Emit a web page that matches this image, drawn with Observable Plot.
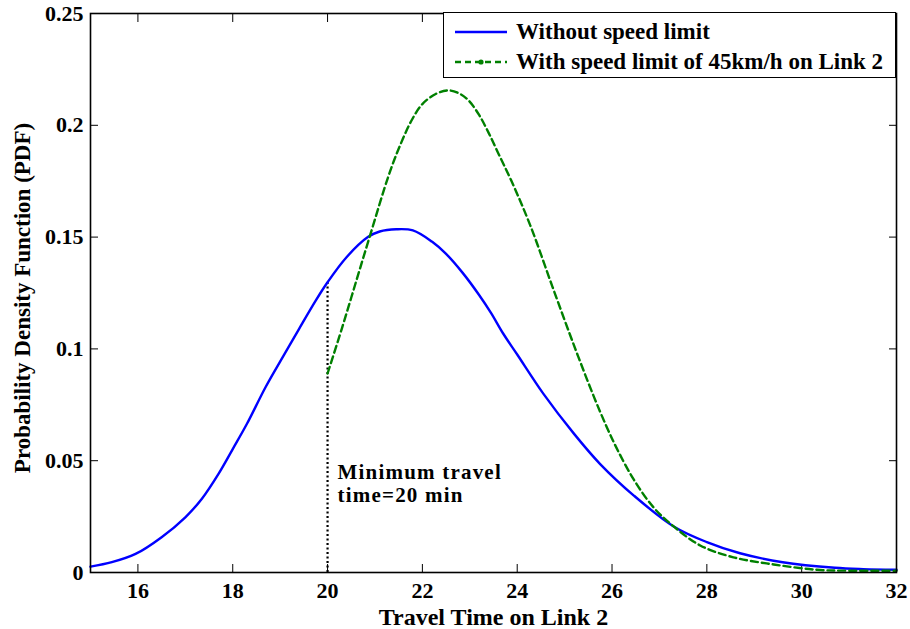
<!DOCTYPE html>
<html>
<head>
<meta charset="utf-8">
<script src="https://cdn.jsdelivr.net/npm/d3@7"></script>
<script src="https://cdn.jsdelivr.net/npm/@observablehq/plot@0.6"></script>
<style>
  html, body { margin: 0; padding: 0; background: white; }
  #wrap { position: relative; width: 910px; height: 629px; }
  #legend {
    position: absolute; left: 443px; top: 12px; width: 451px; height: 64px;
    border: 1.5px solid black; background: white;
    font-family: 'Liberation Serif', 'Times New Roman', serif; font-weight: bold; font-size: 23px;
  }
  .row { position: absolute; left: 10px; display: flex; align-items: center; height: 30px; }
  .row svg { margin-right: 8px; }
</style>
</head>
<body>
<div id="wrap">
  <div id="chart"></div>
  <div id="legend"></div>
</div>
<script>
// Data
const seriesNames = ["Without speed limit", "With speed limit of 45km/h on Link 2"];
const blueX = [15.0, 15.45, 15.95, 16.5, 17.0, 17.35, 17.7, 18.0, 18.3, 18.7, 19.1, 19.4, 19.75, 20.0, 20.4, 20.85, 21.1, 21.45, 21.8, 22.2, 22.5, 22.85, 23.2, 23.45, 23.7, 24.0, 24.55, 25.2, 25.75, 26.46, 27.3, 28.0, 28.7, 29.6, 30.7, 31.3, 32.0];
const blueY = [0.0026, 0.0046, 0.0083, 0.0158, 0.0247, 0.033, 0.0441, 0.0552, 0.0665, 0.0832, 0.098, 0.109, 0.1216, 0.1298, 0.141, 0.150, 0.1525, 0.1535, 0.153, 0.148, 0.1425, 0.134, 0.124, 0.116, 0.107, 0.0975, 0.080, 0.062, 0.0485, 0.0344, 0.0206, 0.0136, 0.0086, 0.0046, 0.0021, 0.0015, 0.0012];
const greenX = [20.0, 20.3, 20.6, 20.9, 21.28, 21.5, 21.78, 22.0, 22.28, 22.56, 22.8, 22.98, 23.2, 23.4, 23.6, 23.87, 24.28, 24.74, 25.19, 25.61, 25.89, 26.1, 26.46, 26.88, 27.3, 27.86, 28.56, 29.41, 30.32, 31.0, 32.0];
const greenY = [0.089, 0.109, 0.130, 0.151, 0.177, 0.1895, 0.2025, 0.2095, 0.214, 0.2156, 0.214, 0.211, 0.2045, 0.1965, 0.1875, 0.1755, 0.155, 0.128, 0.102, 0.079, 0.065, 0.0555, 0.0415, 0.029, 0.0206, 0.0121, 0.0068, 0.0036, 0.0012, 0.0008, 0.0008];
const minTravelTime = 20;
const annotationText = "Minimum travel\ntime=20 min";
const annotationY = 0.0495;
const xTicks = [16, 18, 20, 22, 24, 26, 28, 30, 32];
const yTicks = [0, 0.05, 0.1, 0.15, 0.2, 0.25];
const xLabel = "Travel Time on Link 2";
const yLabel = "Probability Density Function (PDF)";

const blue = blueX.map((x, i) => ({x, y: blueY[i]}));
const green = greenX.map((x, i) => ({x, y: greenY[i]}));
const blueAtMin = blueY[blueX.indexOf(minTravelTime)];

const serif = "'Liberation Serif', 'Times New Roman', serif";

const chart = Plot.plot({
  width: 910,
  height: 629,
  marginLeft: 90,
  marginRight: 14,
  marginTop: 13,
  marginBottom: 57,
  style: {fontFamily: serif, fontWeight: "bold", fontSize: "22px", background: "white", color: "black", overflow: "visible"},
  x: {domain: [15, 32]},
  y: {domain: [0, 0.25]},
  marks: [
    Plot.axisX({anchor: "bottom", ticks: xTicks, tickSize: -8, tickPadding: 18, tickFormat: d => String(d), label: null, fontSize: 22}),
    Plot.axisX({anchor: "top", ticks: xTicks, tickSize: -8, tickFormat: () => "", label: null}),
    Plot.axisY({anchor: "left", ticks: yTicks, tickSize: -8, tickPadding: 15, tickFormat: d => String(d), label: null, fontSize: 22}),
    Plot.axisY({anchor: "right", ticks: yTicks, tickSize: -8, tickFormat: () => "", label: null}),
    Plot.ruleX([minTravelTime], {y1: 0, y2: blueAtMin, stroke: "black", strokeWidth: 2.2, strokeDasharray: "2,2.5"}),
    Plot.line(blue, {x: "x", y: "y", stroke: "#0000ff", strokeWidth: 2.4, curve: "catmull-rom"}),
    Plot.line(green, {x: "x", y: "y", stroke: "#008000", strokeWidth: 2.4, strokeDasharray: "7,4", curve: "catmull-rom"}),
    Plot.text([annotationText], {x: minTravelTime, y: annotationY, text: d => d, textAnchor: "start", lineAnchor: "top", dx: 10, fontSize: 21, lineHeight: 1.12}),
    Plot.text([xLabel], {frameAnchor: "bottom", textAnchor: "middle", lineAnchor: "middle", dy: 45, text: d => d, fontSize: 24}),
    Plot.text([yLabel], {frameAnchor: "left", textAnchor: "middle", lineAnchor: "middle", rotate: -90, dx: -68, dy: 5, text: d => d, fontSize: 23}),
    Plot.frame({stroke: "black", strokeWidth: 1.6})
  ]
});
document.getElementById("chart").appendChild(chart);
chart.querySelectorAll("text").forEach(t => {
  if (t.textContent.startsWith("Minimum")) t.style.letterSpacing = "1.2px";
});

// Legend
const legend = document.getElementById("legend");
const styles = [
  {stroke: "#0000ff", dash: null, marker: false},
  {stroke: "#008000", dash: "6,4", marker: true}
];
seriesNames.forEach((name, i) => {
  const row = document.createElement("div");
  row.className = "row";
  row.style.top = (4 + i * 30) + "px";
  const s = styles[i];
  row.innerHTML = `<svg width="54" height="20"><line x1="1" y1="10" x2="53" y2="10" stroke="${s.stroke}" stroke-width="2.3" ${s.dash ? `stroke-dasharray="${s.dash}"` : ""}/>${s.marker ? `<circle cx="27" cy="10" r="2.6" fill="${s.stroke}"/>` : ""}</svg><span>${name}</span>`;
  legend.appendChild(row);
});
</script>
</body>
</html>
